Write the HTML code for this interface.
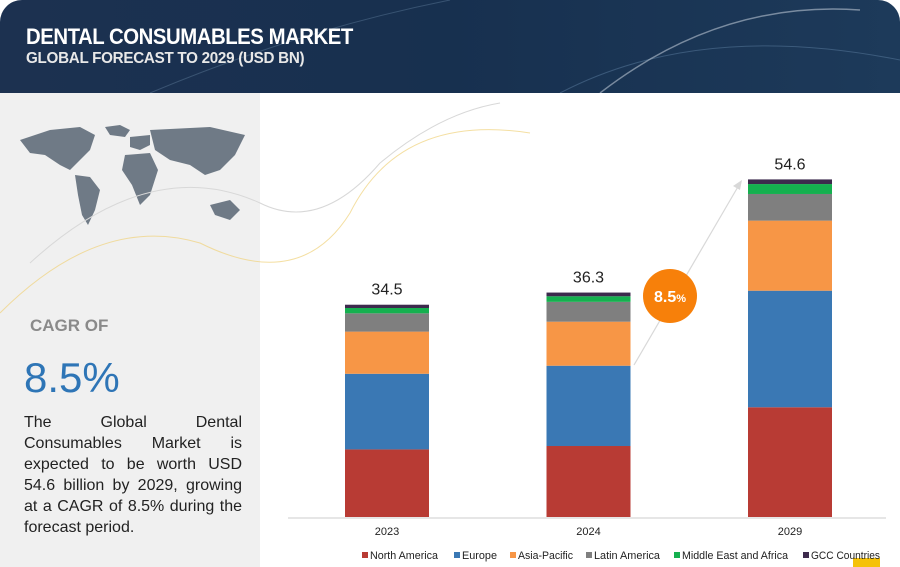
<!DOCTYPE html>
<html><head><meta charset="utf-8"><style>
body{margin:0;width:900px;height:567px;overflow:hidden;background:#fff;font-family:"Liberation Sans",sans-serif;position:relative}
.hdr{position:absolute;left:0;top:0;width:900px;height:93px;background:linear-gradient(90deg,#1c3150,#17304f 50%,#1d3a5a);border-radius:22px 22px 0 0}
.left{position:absolute;left:0;top:93px;width:260px;height:474px;background:#f0f0f0}
.p{position:absolute;left:24px;top:412px;width:218px;font-size:16px;line-height:21px;text-align:justify;color:#222}
</style></head><body>
<div class="hdr">
<svg width="900" height="93" style="position:absolute;left:0;top:0">
<path d="M560 93 Q700 20 900 60" stroke="#5c7da0" stroke-width="1" fill="none" opacity=".5"/>
<path d="M600 93 Q720 0 860 10" stroke="#d8e0ea" stroke-width="1.5" fill="none" opacity=".5"/>
<path d="M150 93 Q300 30 450 0" stroke="#6a86a6" stroke-width="1" fill="none" opacity=".4"/>
</svg>
<div style="position:absolute;left:26px;top:24px;color:#fff;font-weight:bold;font-size:22px;letter-spacing:-0.5px;transform:scaleX(0.925);transform-origin:left">DENTAL CONSUMABLES MARKET</div>
<div style="position:absolute;left:26px;top:50px;color:#e8e8e8;font-weight:bold;font-size:16px;letter-spacing:-0.3px;transform:scaleX(0.95);transform-origin:left">GLOBAL FORECAST TO 2029 (USD BN)</div>
</div>
<div class="left"></div>
<svg width="260" height="140" style="position:absolute;left:10px;top:115px" fill="#6f7a86">
<path d="M10 25 L40 15 L70 12 L85 20 L80 35 L70 45 L60 55 L50 50 L35 40 L20 38Z"/>
<path d="M65 60 L80 62 L90 75 L85 95 L78 110 L72 100 L68 80Z"/>
<path d="M95 12 L110 10 L120 15 L115 22 L100 20Z"/>
<path d="M120 22 L140 20 L140 30 L130 35 L120 32Z"/>
<path d="M115 40 L140 38 L148 55 L140 80 L130 90 L122 70 L112 55Z"/>
<path d="M140 15 L200 12 L235 20 L225 40 L210 55 L195 60 L180 50 L160 45 L145 35Z"/>
<path d="M200 90 L220 85 L230 95 L220 105 L205 100Z"/>
</svg>
<svg width="640" height="340" style="position:absolute;left:0;top:93px">
<path d="M0 220 Q100 120 200 150 Q300 200 350 120 Q400 20 530 40" stroke="#f0d27a" fill="none" opacity=".7"/>
<path d="M30 170 Q150 60 260 110 Q320 140 380 70 Q440 20 500 10" stroke="#d8d8d8" fill="none"/>
</svg>
<div style="position:absolute;left:30px;top:316px;color:#8a8a8a;font-size:17px;font-weight:bold">CAGR OF</div>
<div style="position:absolute;left:24px;top:354px;color:#2e75b6;font-size:42px">8.5%</div>
<div class="p">The Global Dental Consumables Market is expected to be worth USD 54.6 billion by 2029, growing at a CAGR of 8.5% during the forecast period.</div>
<div style="position:absolute;left:853px;top:558px;width:27px;height:9px;background:#f5c20a"></div>
<svg id="chart" width="900" height="567" style="position:absolute;left:0;top:0"></svg>
<script>
const years=["2023","2024","2029"];
const totals=["34.5","36.3","54.6"];
const northAmerica=[10.9,11.45,17.7];
const europe=[12.2,12.95,18.8];
const asiaPacific=[6.8,7.1,11.3];
const latinAmerica=[2.95,3.2,4.3];
const mea=[0.86,0.9,1.6];
const gcc=[0.53,0.6,0.75];
const seriesNames=["North America","Europe","Asia-Pacific","Latin America","Middle East and Africa","GCC Countries"];
const colors=["#b83b34","#3a78b4","#f79646","#7f7f7f","#15b04f","#3d2a4d"];
const series=[northAmerica,europe,asiaPacific,latinAmerica,mea,gcc];
const NS="http://www.w3.org/2000/svg";
const svg=document.getElementById('chart');
const base=517,scale=6.2;
const y=v=>base-v*scale;
const xc=i=>387+i*201.5;
const bw=84;
function mk(t,a){const e=document.createElementNS(NS,t);for(const k in a)e.setAttribute(k,a[k]);svg.appendChild(e);return e;}
const ax=mk('line',{x1:288,x2:886,y1:518,y2:518,stroke:'#ddd','stroke-width':1.5});


years.forEach((yr,i)=>{
 let cum=0;
 series.forEach((s,j)=>{
  const r=mk('rect',{x:xc(i)-bw/2,y:y(cum+s[i]),width:bw,height:s[i]*scale,fill:colors[j]});
  
  
  cum+=s[i];
 });
 const t=mk('text',{x:xc(i),y:y(cum)-10,'text-anchor':'middle','font-size':16,fill:'#222'});
 t.textContent=totals[i];
 
 
 const l=mk('text',{x:xc(i),y:535,'text-anchor':'middle','font-size':11,fill:'#222'});
 l.textContent=yr;
 
 
});
const arr=mk('line',{x1:634,y1:365,x2:739,y2:185,stroke:'#d8d8d8','stroke-width':1.2});


const ah=mk('path',{d:'M742 180 L733 186 L740 190Z',fill:'#d8d8d8'});


const c=mk('circle',{cx:670,cy:296,r:27,fill:'#f7800a'});


const ct=mk('text',{x:670,y:302,'text-anchor':'middle','font-size':16,'font-weight':'bold',fill:'#fff'});
ct.innerHTML='8.5<tspan font-size="11">%</tspan>';


const lx=[362,454,510,586,674,803];
const lw=[68,35,55,66,106,69];
seriesNames.forEach((n,j)=>{
 const g=document.createElementNS(NS,'g');svg.appendChild(g);
 
 
 const r=document.createElementNS(NS,'rect');
 r.setAttribute('x',lx[j]);r.setAttribute('y',552);r.setAttribute('width',6);r.setAttribute('height',6);r.setAttribute('fill',colors[j]);g.appendChild(r);
 const t=document.createElementNS(NS,'text');
 t.setAttribute('x',lx[j]+8);t.setAttribute('y',559);t.setAttribute('font-size',11);t.setAttribute('fill','#222');
 t.setAttribute('textLength',lw[j]);t.setAttribute('lengthAdjust','spacingAndGlyphs');
 t.textContent=n;g.appendChild(t);
});
</script>
</body></html>
